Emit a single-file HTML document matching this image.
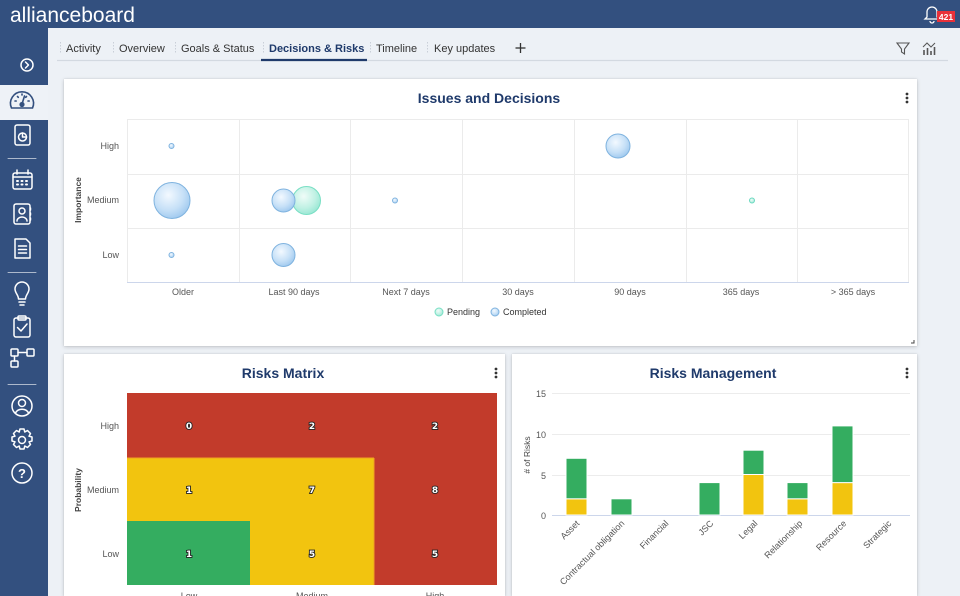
<!DOCTYPE html>
<html><head><meta charset="utf-8"><style>
html,body{margin:0;padding:0;width:960px;height:596px;overflow:hidden;background:#edf1f6;font-family:"Liberation Sans",Arial,sans-serif;position:relative}
.card{position:absolute;background:#fff;box-shadow:0 1px 4px rgba(0,0,0,0.18),0 0 1px rgba(0,0,0,0.15)}
svg{position:absolute;left:0;top:0}
</style></head><body>
<div style="position:absolute;left:0;top:0;width:960px;height:28px;background:#33507f"></div>
<div style="position:absolute;left:0;top:28px;width:48px;height:568px;background:#33507f"></div>
<div style="position:absolute;left:0;top:85px;width:48px;height:35px;background:#eef2f7"></div>
<div class="card" style="left:64px;top:79px;width:853px;height:267px"></div>
<div class="card" style="left:64px;top:354px;width:441px;height:242px"></div>
<div class="card" style="left:512px;top:354px;width:405px;height:242px"></div>
<svg width="960" height="596" viewBox="0 0 960 596" font-family="Liberation Sans, Arial, sans-serif">
<defs>
<radialGradient id="gb" cx="40%" cy="35%" r="70%"><stop offset="0" stop-color="#f3f9ff"/><stop offset="0.6" stop-color="#c6e0f7"/><stop offset="1" stop-color="#9cc7ee"/></radialGradient>
<radialGradient id="gg" cx="40%" cy="35%" r="70%"><stop offset="0" stop-color="#f0fcf8"/><stop offset="0.6" stop-color="#c0f1e4"/><stop offset="1" stop-color="#95e6d2"/></radialGradient>
</defs>
<!-- header -->
<text x="10" y="22" font-size="21" fill="#fff">allianceboard</text>
<g stroke="#fff" stroke-width="1.3" fill="none">
<path d="M927 17 L927 12 A5 5 0 0 1 937 12 L937 17 L939 19 L925 19 Z"/>
<path d="M930 21 A2 2 0 0 0 934 21"/>
</g>
<rect x="937" y="11" width="18" height="11" fill="#e8313a"/>
<text x="946" y="20" font-size="8.5" font-weight="bold" fill="#fff" text-anchor="middle">421</text>
<!-- tabs -->
<line x1="57" y1="60.5" x2="948" y2="60.5" stroke="#d3d9e1" stroke-width="1.2"/>
<line x1="261" y1="60" x2="367" y2="60" stroke="#1f3a6b" stroke-width="2.2"/>
<g stroke="#c9cfd8" stroke-width="1" stroke-dasharray="1.5,1.5">
<line x1="60.5" y1="42" x2="60.5" y2="53"/><line x1="113.5" y1="42" x2="113.5" y2="53"/><line x1="175.5" y1="42" x2="175.5" y2="53"/><line x1="263.5" y1="42" x2="263.5" y2="53"/><line x1="370.5" y1="42" x2="370.5" y2="53"/><line x1="427.5" y1="42" x2="427.5" y2="53"/>
</g>
<g font-size="11" fill="#333">
<text x="66" y="52">Activity</text>
<text x="119" y="52">Overview</text>
<text x="181" y="52">Goals &amp; Status</text>
<text x="269" y="52" font-weight="bold" fill="#1f3a6b">Decisions &amp; Risks</text>
<text x="376" y="52">Timeline</text>
<text x="434" y="52">Key updates</text>
</g>
<g stroke="#333" stroke-width="1.3"><line x1="520.5" y1="43" x2="520.5" y2="53"/><line x1="515.5" y1="48" x2="525.5" y2="48"/></g>
<path d="M897 43 L909 43 L904.5 49 L904.5 54 L901.5 52 L901.5 49 Z" fill="none" stroke="#555" stroke-width="1.1"/>
<g stroke="#555" stroke-width="1.6"><line x1="924" y1="55" x2="924" y2="50"/><line x1="927.5" y1="55" x2="927.5" y2="48"/><line x1="931" y1="55" x2="931" y2="51"/><line x1="934.5" y1="55" x2="934.5" y2="47"/></g>
<path d="M923 47 L927 43 L931 47 L935 43" fill="none" stroke="#555" stroke-width="1"/>
<!-- sidebar icons -->
<g stroke="#fff" stroke-width="1.5" fill="none" stroke-linecap="round" stroke-linejoin="round">
<circle cx="27" cy="65" r="6"/><path d="M25.5 62 L28.5 65 L25.5 68"/>
<rect x="15" y="125" width="15" height="20" rx="2"/><circle cx="22.5" cy="137" r="4"/><path d="M22.5 133 L22.5 137 L26.5 137"/>
<line x1="8" y1="158.5" x2="36" y2="158.5" stroke-opacity="0.6" stroke-width="1"/>
<rect x="13" y="173" width="19" height="16" rx="2"/><line x1="13" y1="177" x2="32" y2="177"/><line x1="17" y1="170" x2="17" y2="174"/><line x1="28" y1="170" x2="28" y2="174"/>
<path d="M17 181h1M21.5 181h1M26 181h1M17 184.5h1M21.5 184.5h1M26 184.5h1" stroke-width="2"/>
<rect x="14" y="204" width="16" height="20" rx="2"/><circle cx="22" cy="211" r="3"/><path d="M17 221 A5 4 0 0 1 27 221"/><path d="M30.5 208v2M30.5 213v2M30.5 218v2"/>
<path d="M15 239 L26 239 L30 243 L30 258 L15 258 Z"/><path d="M18.5 246h8M18.5 249.5h8M18.5 253h8"/>
<line x1="8" y1="272.5" x2="36" y2="272.5" stroke-opacity="0.6" stroke-width="1"/>
<path d="M18.5 299 C18.5 295 15 293 15 289 A7 7 0 0 1 29 289 C29 293 25.5 295 25.5 299 Z"/><path d="M19 302h6M20 305h4"/>
<rect x="14" y="318" width="16" height="19" rx="2"/><rect x="18" y="316" width="8" height="4" rx="1"/><path d="M17.5 327.5 L21 331 L27 324"/>
<rect x="11" y="349" width="7" height="7" rx="1"/><rect x="27" y="349" width="7" height="7" rx="1"/><line x1="18" y1="352.5" x2="27" y2="352.5"/><path d="M14.5 356 L14.5 361"/><rect x="11" y="361" width="7" height="6" rx="1"/>
<line x1="8" y1="384.5" x2="36" y2="384.5" stroke-opacity="0.6" stroke-width="1"/>
<circle cx="22" cy="406" r="10"/><circle cx="22" cy="403" r="3.5"/><path d="M15.5 413 A7 6 0 0 1 28.5 413"/>
<circle cx="22" cy="440" r="3.5"/>
<path d="M20 429 L24 429 L24.8 432 L27.5 430.5 L30.5 433.5 L29 436.2 L32 437 L32 441 L29 441.8 L30.5 444.5 L27.5 447.5 L24.8 446 L24 449 L20 449 L19.2 446 L16.5 447.5 L13.5 444.5 L15 441.8 L12 441 L12 437 L15 436.2 L13.5 433.5 L16.5 430.5 L19.2 432 Z"/>
<circle cx="22" cy="473" r="10"/>
</g>
<text x="22" y="478" font-size="13" font-weight="bold" fill="#fff" text-anchor="middle">?</text>
<g stroke="#33507f" stroke-width="1.6" fill="none" stroke-linecap="round">
<path d="M11.5 108 A11.5 11.5 0 1 1 32.5 108 Z"/>
<path d="M22 104 L24.5 96"/><circle cx="22" cy="104.5" r="1.8" fill="#33507f"/>
<path d="M15 101h1.2M28 101h1.2M17.5 96.5l0.8 0.8M26.5 96.5l-0.8 0.8M22 94v1"/>
</g>
<!-- Card 1 -->
<text x="489" y="103" font-size="14" font-weight="bold" fill="#1f3a6b" text-anchor="middle">Issues and Decisions</text>
<g fill="#333"><circle cx="907" cy="94" r="1.4"/><circle cx="907" cy="98" r="1.4"/><circle cx="907" cy="102" r="1.4"/></g>
<g stroke="#ebebeb" stroke-width="1">
<line x1="127" y1="119.5" x2="909" y2="119.5"/><line x1="127" y1="174.5" x2="909" y2="174.5"/><line x1="127" y1="228.5" x2="909" y2="228.5"/>
<line x1="127.5" y1="119" x2="127.5" y2="282"/><line x1="239.5" y1="119" x2="239.5" y2="282"/><line x1="350.5" y1="119" x2="350.5" y2="282"/><line x1="462.5" y1="119" x2="462.5" y2="282"/><line x1="574.5" y1="119" x2="574.5" y2="282"/><line x1="686.5" y1="119" x2="686.5" y2="282"/><line x1="797.5" y1="119" x2="797.5" y2="282"/><line x1="908.5" y1="119" x2="908.5" y2="282"/>
</g>
<line x1="127" y1="282.5" x2="909" y2="282.5" stroke="#ccd6eb" stroke-width="1"/>
<g font-size="9" fill="#555" text-anchor="end">
<text x="119" y="149">High</text><text x="119" y="203">Medium</text><text x="119" y="258">Low</text>
</g>
<text transform="translate(81,200) rotate(-90)" font-size="8.5" font-weight="bold" fill="#444" text-anchor="middle">Importance</text>
<g font-size="9" fill="#555" text-anchor="middle">
<text x="183" y="295">Older</text><text x="294" y="295">Last 90 days</text><text x="406" y="295">Next 7 days</text><text x="518" y="295">30 days</text><text x="630" y="295">90 days</text><text x="741" y="295">365 days</text><text x="853" y="295">&gt; 365 days</text>
</g>
<g stroke="#7fb3df" stroke-width="1" fill="url(#gb)">
<circle cx="171.5" cy="146" r="2.5"/>
<circle cx="172" cy="200.5" r="18"/>
<circle cx="171.5" cy="255" r="2.5"/>
<circle cx="283.5" cy="255" r="11.5"/>
<circle cx="395" cy="200.5" r="2.5"/>
<circle cx="618" cy="146" r="12"/>
</g>
<circle cx="306.5" cy="200.5" r="14" fill="url(#gg)" stroke="#79dfc4" stroke-width="1"/>
<circle cx="283.5" cy="200.5" r="11.5" fill="url(#gb)" stroke="#7fb3df" stroke-width="1"/>
<circle cx="752" cy="200.5" r="2.5" fill="url(#gg)" stroke="#6bd8c0" stroke-width="1"/>
<circle cx="439" cy="312" r="4" fill="url(#gg)" stroke="#79dfc4"/>
<text x="447" y="315" font-size="9" fill="#333">Pending</text>
<circle cx="495" cy="312" r="4" fill="url(#gb)" stroke="#7fb3df"/>
<text x="503" y="315" font-size="9" fill="#333">Completed</text>
<path d="M911 343 L914 343 L914 340" fill="none" stroke="#444" stroke-width="1"/>
<!-- Card 2 Risks Matrix -->
<text x="283" y="378" font-size="14" font-weight="bold" fill="#1f3a6b" text-anchor="middle">Risks Matrix</text>
<g fill="#333"><circle cx="496" cy="369" r="1.4"/><circle cx="496" cy="373" r="1.4"/><circle cx="496" cy="377" r="1.4"/></g>
<rect x="127" y="393" width="370" height="65" fill="#c23b2b"/>
<rect x="374" y="458" width="123" height="127" fill="#c23b2b"/>
<rect x="127" y="458" width="247" height="63" fill="#f2c40f"/>
<rect x="250" y="521" width="124" height="64" fill="#f2c40f"/>
<rect x="127" y="521" width="123" height="64" fill="#34ad60"/>
<line x1="127" y1="458" x2="374" y2="458" stroke="#f0a020" stroke-width="1"/>
<line x1="374" y1="458" x2="374" y2="585" stroke="#f0a020" stroke-width="1"/>
<g font-size="9" font-weight="bold" fill="#fff" stroke="#222" stroke-width="1.8" paint-order="stroke" text-anchor="middle" font-family="DejaVu Sans, sans-serif">
<text x="189" y="429">0</text><text x="312" y="429">2</text><text x="435" y="429">2</text>
<text x="189" y="493">1</text><text x="312" y="493">7</text><text x="435" y="493">8</text>
<text x="189" y="557">1</text><text x="312" y="557">5</text><text x="435" y="557">5</text>
</g>
<g font-size="9" fill="#555" text-anchor="end">
<text x="119" y="429">High</text><text x="119" y="493">Medium</text><text x="119" y="557">Low</text>
</g>
<text transform="translate(81,490) rotate(-90)" font-size="8.5" font-weight="bold" fill="#444" text-anchor="middle">Probability</text>
<g font-size="9" fill="#555" text-anchor="middle">
<text x="189" y="599">Low</text><text x="312" y="599">Medium</text><text x="435" y="599">High</text>
</g>
<!-- Card 3 Risks Management -->
<text x="713" y="378" font-size="14" font-weight="bold" fill="#1f3a6b" text-anchor="middle">Risks Management</text>
<g fill="#333"><circle cx="907" cy="369" r="1.4"/><circle cx="907" cy="373" r="1.4"/><circle cx="907" cy="377" r="1.4"/></g>
<g stroke="#ececec" stroke-width="1">
<line x1="552" y1="393.5" x2="910" y2="393.5"/><line x1="552" y1="434.5" x2="910" y2="434.5"/><line x1="552" y1="475.5" x2="910" y2="475.5"/>
</g>
<line x1="552" y1="515.5" x2="910" y2="515.5" stroke="#ccd6eb" stroke-width="1"/>
<g font-size="9" fill="#555" text-anchor="end">
<text x="546" y="397">15</text><text x="546" y="438">10</text><text x="546" y="479">5</text><text x="546" y="519">0</text>
</g>
<text transform="translate(530,455) rotate(-90)" font-size="8.5" fill="#444" text-anchor="middle">&#35; of Risks</text>
<g stroke="#fff" stroke-width="1">
<rect x="566" y="498.8" width="21" height="16.2" fill="#f2c40f"/>
<rect x="566" y="458.3" width="21" height="40.5" fill="#34ad60"/>
<rect x="611" y="498.8" width="21" height="16.2" fill="#34ad60"/>
<rect x="699" y="482.6" width="21" height="32.4" fill="#34ad60"/>
<rect x="743" y="474.5" width="21" height="40.5" fill="#f2c40f"/>
<rect x="743" y="450.2" width="21" height="24.3" fill="#34ad60"/>
<rect x="787" y="498.8" width="21" height="16.2" fill="#f2c40f"/>
<rect x="787" y="482.6" width="21" height="16.2" fill="#34ad60"/>
<rect x="832" y="482.6" width="21" height="32.4" fill="#f2c40f"/>
<rect x="832" y="425.9" width="21" height="56.7" fill="#34ad60"/>
</g>
<g font-size="9" fill="#555" text-anchor="end">
<text transform="translate(580,524) rotate(-45)">Asset</text>
<text transform="translate(625,524) rotate(-45)">Contractual obligation</text>
<text transform="translate(669,524) rotate(-45)">Financial</text>
<text transform="translate(714,524) rotate(-45)">JSC</text>
<text transform="translate(758,524) rotate(-45)">Legal</text>
<text transform="translate(803,524) rotate(-45)">Relationship</text>
<text transform="translate(847,524) rotate(-45)">Resource</text>
<text transform="translate(892,524) rotate(-45)">Strategic</text>
</g>
</svg>
</body></html>
